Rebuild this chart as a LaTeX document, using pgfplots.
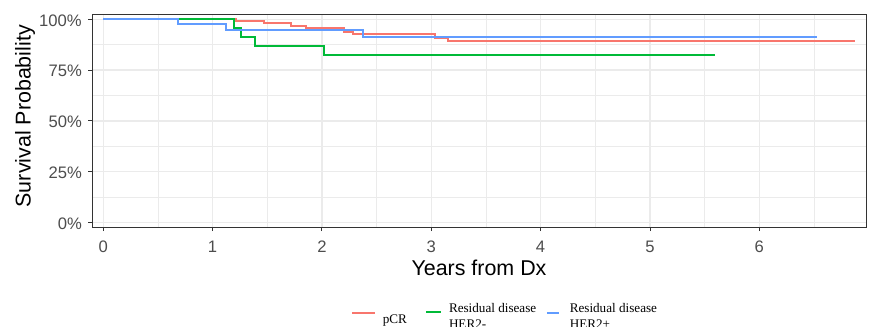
\documentclass[border=0pt]{standalone}
\usepackage{fontspec}
\setmainfont{Liberation Sans}
\newfontfamily\legfont{Liberation Serif}
\usepackage{pgfplots}
\pgfplotsset{compat=1.18}
\definecolor{kmred}{HTML}{F8766D}
\definecolor{kmgreen}{HTML}{00BA38}
\definecolor{kmblue}{HTML}{619CFF}
\definecolor{gridgray}{HTML}{EBEBEB}
\definecolor{axgray}{HTML}{333333}
\definecolor{tickgray}{HTML}{4D4D4D}
\begin{document}
\begin{tikzpicture}[x=1bp,y=1bp]
\path[use as bounding box, clip] (0,0) rectangle (871,326);
\begin{axis}[
  at={(92bp,99bp)}, anchor=south west,
  scale only axis, width=774bp, height=213bp,
  xmin=-0.103, xmax=6.976, ymin=-0.022, ymax=1.026,
  xtick={0,1,2,3,4,5,6}, xticklabels={0,1,2,3,4,5,6},
  ytick={0,0.25,0.5,0.75,1}, yticklabels={0\%,25\%,50\%,75\%,100\%},
  minor xtick={0.5,1.5,2.5,3.5,4.5,5.5,6.5},
  minor ytick={0.125,0.375,0.625,0.875},
  grid=both,
  major grid style={draw=gridgray, line width=1.2bp},
  minor grid style={draw=gridgray, line width=0.6bp},
  axis line style={draw=axgray, line width=0.9bp},
  tick style={draw=axgray, line width=0.9bp},
  tick align=outside, tick pos=left, major tick length=4bp, minor tick length=0pt,
  ticklabel style={font=\fontsize{16.7}{20}\selectfont, text=tickgray, inner sep=0pt},
  xticklabel style={anchor=north, yshift=-9.5bp},
  yticklabel style={anchor=east, xshift=-6bp, yshift=-1bp},
  xlabel={Years from Dx}, ylabel={Survival Probability},
  every axis x label/.style={at={(axis description cs:0.5,-0.192)}, anchor=center, font=\fontsize{21.5}{25}\selectfont},
  every axis y label/.style={at={(axis description cs:-0.0866,0.52)}, anchor=center, rotate=90, font=\fontsize{21.5}{25}\selectfont},
  legend columns=3,
  legend style={draw=none, fill=none, inner sep=0pt,
    at={(axis description cs:0.3346,-0.397)}, anchor=west,
    font=\legfont\fontsize{13.2}{16}\selectfont,
    nodes={inner sep=0pt},
    cells={anchor=west}, column sep=0pt,
    /tikz/every odd column/.append style={column sep=7bp},
    /tikz/every even column/.append style={column sep=9.5bp}},
]
\addplot[kmred, line width=2bp, const plot,
  legend image code/.code={\draw[kmred,line width=2bp](0bp,-1bp)--(22.7bp,-1bp);}]
  coordinates {(0,1) (1.21,0.990) (1.47,0.980) (1.72,0.969) (1.85,0.958) (2.20,0.937) (2.28,0.929) (3.03,0.909) (3.15,0.891) (6.875,0.891)};
\addlegendentry{\raisebox{-8bp}[9.6bp][3bp]{pCR}\kern8.5bp}
\addplot[kmgreen, line width=2bp, const plot,
  legend image code/.code={\draw[kmgreen,line width=2bp](0bp,0bp)--(15bp,0bp);}]
  coordinates {(0,1) (1.195,0.959) (1.26,0.914) (1.387,0.867) (2.02,0.823) (5.595,0.823)};
\addlegendentry{\begin{tabular}{@{}l@{}}Residual disease\\HER2-\end{tabular}}
\addplot[kmblue, line width=2bp, const plot,
  legend image code/.code={\draw[kmblue,line width=2bp](0bp,-1bp)--(12bp,-1bp); \path (15bp,0bp);}]
  coordinates {(0,1) (0.68,0.975) (1.125,0.948) (2.38,0.913) (6.53,0.913)};
\addlegendentry{\begin{tabular}{@{}l@{}}Residual disease\\HER2+\end{tabular}}
\end{axis}
\end{tikzpicture}
\end{document}
